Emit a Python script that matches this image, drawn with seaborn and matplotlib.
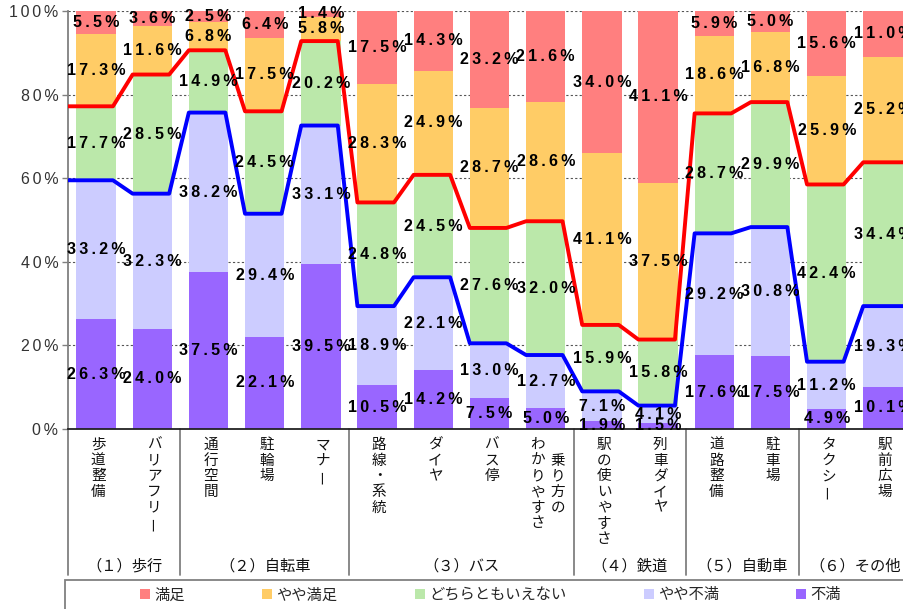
import numpy as np
import pandas as pd
import matplotlib
matplotlib.use("Agg")
import matplotlib.pyplot as plt
import seaborn as sns
from matplotlib.patches import Rectangle
from matplotlib.lines import Line2D

# categories (one label per bar) and their groups
categories = ["歩道整備", "バリアフリー", "通行空間", "駐輪場", "マナー",
              "路線・系統", "ダイヤ", "バス停", "乗り方の\nわかりやすさ",
              "駅の使いやすさ", "列車ダイヤ", "道路整備", "駐車場", "タクシー", "駅前広場"]
groups = ["（１）歩行", "（２）自転車", "（３）バス", "（４）鉄道", "（５）自動車", "（６）その他"]
group_sizes = [2, 3, 4, 2, 2, 2]

# percentages per answer, bottom to top of each bar
fuman = [26.3, 24.0, 37.5, 22.1, 39.5, 10.5, 14.2, 7.5, 5.0, 1.9, 1.5, 17.6, 17.5, 4.9, 10.1]
yaya_fuman = [33.2, 32.3, 38.2, 29.4, 33.1, 18.9, 22.1, 13.0, 12.7, 7.1, 4.1, 29.2, 30.8, 11.2, 19.3]
dochira = [17.7, 28.5, 14.9, 24.5, 20.2, 24.8, 24.5, 27.6, 32.0, 15.9, 15.8, 28.7, 29.9, 42.4, 34.4]
yaya_manzoku = [17.3, 11.6, 6.8, 17.5, 5.8, 28.3, 24.9, 28.7, 28.6, 41.1, 37.5, 18.6, 16.8, 25.9, 25.2]
manzoku = [5.5, 3.6, 2.5, 6.4, 1.4, 17.5, 14.3, 23.2, 21.6, 34.0, 41.1, 5.9, 5.0, 15.6, 11.0]

series_names = ["不満", "やや不満", "どちらともいえない", "やや満足", "満足"]
colors = ["#9966FF", "#CCCCFF", "#BBE8AA", "#FFCC66", "#FF7F7F"]

sns.set_theme(style="white")
plt.rcParams['font.family'] = ['Noto Sans CJK JP', 'DejaVu Sans']

def spaced(s, sep="\u2009"):
    return sep.join(s)

num_font = ['Liberation Sans', 'DejaVu Sans']

vals = np.array([fuman, yaya_fuman, dochira, yaya_manzoku, manzoku])
cum = vals.cumsum(axis=0)
n = len(categories)

fig = plt.figure(figsize=(9.04, 6.09), dpi=100)
W, H = 904, 609
ax = fig.add_axes([68 / W, 180 / H, (911 - 68) / W, 418 / H])

# stacked bars: draw cumulative totals from the top layer down
for k in range(4, -1, -1):
    df = pd.DataFrame({'cat': categories, 'val': cum[k]})
    sns.barplot(data=df, x='cat', y='val', order=categories, color=colors[k],
                saturation=1, width=0.7, errorbar=None, linewidth=0, ax=ax, zorder=2)

# value labels
for k in range(5):
    for i in range(n):
        v = vals[k, i]
        ax.text(i, cum[k, i] - v / 2, spaced(f"{v:.1f}%"), ha='center', va='center',
                fontsize=11.5, fontweight='bold', family=num_font, color='black', zorder=5)

# step lines for cumulative 不満+やや不満 and +どちらともいえない
def step_xy(levels):
    xs, ys = [], []
    for i, v in enumerate(levels):
        x0 = -0.5 if i == 0 else i - 0.35
        x1 = n - 0.5 if i == n - 1 else i + 0.3
        xs += [x0, x1]
        ys += [v, v]
    return xs, ys

bx, by = step_xy(cum[1])
rx, ry = step_xy(cum[2])
sns.lineplot(x=bx, y=by, sort=False, estimator=None, color='#0000FF', lw=2.8, ax=ax, zorder=4)
sns.lineplot(x=rx, y=ry, sort=False, estimator=None, color='#FF0000', lw=2.8, ax=ax, zorder=4)

ax.set_xlim(-0.5, n - 0.5)
ax.set_ylim(0, 100)
ax.set_yticks(range(0, 101, 20))
ax.set_yticklabels([spaced(f"{t}%", "\u200a\u200a") for t in range(0, 101, 20)],
                   family=num_font, fontsize=11.5, color='#333333')
ax.set_xticks([])
ax.set_xlabel("")
ax.set_ylabel("")
ax.tick_params(axis='y', left=True, length=4, width=1, color='#808080', pad=3)
for y in range(20, 101, 20):
    ax.axhline(y, color='#555555', lw=0.8, ls=(0, (2, 2)), zorder=1)
ax.spines['top'].set_visible(False)
ax.spines['right'].set_visible(False)
ax.spines['left'].set_color('#808080')
ax.spines['left'].set_linewidth(1.3)
ax.spines['bottom'].set_color('#222222')
ax.spines['bottom'].set_linewidth(1.3)

# vertical category labels (one character per line, columns right to left)
px = 0.72
char_sp = 15.7 * px
col_sp = 20 * px
first = 16 * px
for i, lab in enumerate(categories):
    cols = lab.split("\n")
    maxlen = max(len(c) for c in cols)
    nc = len(cols)
    for c, col in enumerate(cols):
        dx = ((nc - 1) / 2 - c) * col_sp
        off = (maxlen - len(col)) / 2
        for j, ch in enumerate(col):
            ax.annotate(ch, xy=(i, 0), xycoords=('data', 'axes fraction'),
                        xytext=(dx + 1.5, -(first + (off + j) * char_sp)),
                        textcoords='offset points', ha='center', va='center',
                        fontsize=10.5, color='#111111', annotation_clip=False,
                        rotation=90 if ch == 'ー' else 0)

# group separators and group labels
bounds = np.concatenate([[-0.5], np.cumsum(group_sizes) - 0.5])
for b in bounds[:-1]:
    ax.axvline(b, ymin=-146 / 418, ymax=0, color='#808080', lw=1.3, clip_on=False)
for g, name in enumerate(groups):
    xc = (bounds[g] + bounds[g + 1]) / 2
    ax.annotate(name, xy=(xc, 0), xycoords=('data', 'axes fraction'),
                xytext=(0, -137 * px), textcoords='offset points', ha='center',
                va='center', fontsize=11, color='#111111', annotation_clip=False)

# legend
handles = [Line2D([], [], marker='s', ls='', markersize=6.5, color=colors[k],
                  markeredgewidth=0) for k in range(4, -1, -1)]
labels = [series_names[k] for k in range(4, -1, -1)]
fig.legend(handles, labels, loc='center', bbox_to_anchor=(0.542, 14 / H), ncol=5,
           frameon=False, fontsize=11, handlelength=0.8, handletextpad=0.2,
           columnspacing=5.0, borderpad=0)
fig.add_artist(Rectangle((65 / W, -0.05), (904 - 65) / W + 0.05, 29 / H + 0.05,
                         transform=fig.transFigure, fill=False, edgecolor='#808080', lw=1.3))

fig.savefig("out.png", dpi=100)
